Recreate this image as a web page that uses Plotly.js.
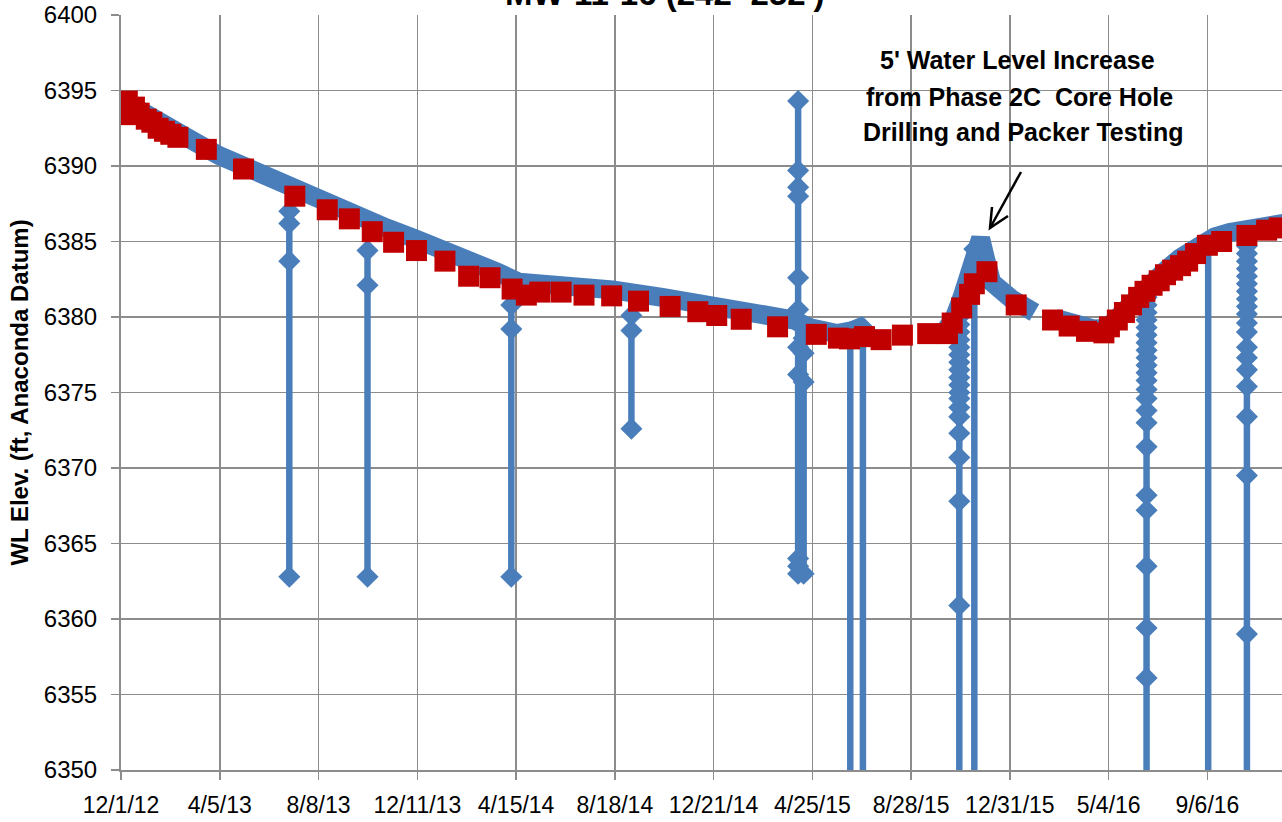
<!DOCTYPE html>
<html>
<head>
<meta charset="utf-8">
<script src="https://cdn.plot.ly/plotly-3.0.1.min.js"></script>
<style>html,body{margin:0;padding:0;background:#fff;}#chart{width:1282px;height:822px;}</style>
</head>
<body>
<div id="chart"></div>
<script>
// ---- Chart title & labels ----
const chartTitle = "MW-11-16 (242'-252')";
const yAxisTitle = "WL Elev. (ft, Anaconda Datum)";
const noteLines = ["5' Water Level Increase", "from Phase 2C\u00a0 Core Hole", "Drilling and Packer Testing"];

// ---- X tick dates / labels ----
const tickDates = ['2012-12-01','2013-04-05','2013-08-08','2013-12-11','2014-04-15','2014-08-18','2014-12-21','2015-04-25','2015-08-28','2015-12-31','2016-05-04','2016-09-06'];
const tickLabels = ['12/1/12','4/5/13','8/8/13','12/11/13','4/15/14','8/18/14','12/21/14','4/25/15','8/28/15','12/31/15','5/4/16','9/6/16'];

// ---- Continuous transducer record (blue), null = data gap ----
const bandDates = ['2012-12-01','2013-01-06','2013-02-22','2013-04-04','2013-05-12','2013-06-10','2013-07-15','2013-08-09','2013-09-20','2013-11-02','2013-12-07','2014-01-08','2014-02-06','2014-03-21','2014-04-19','2014-06-13','2014-08-15','2014-10-17','2014-12-19','2015-02-21','2015-04-02','2015-04-21','2015-05-26','2015-06-15','2015-06-24','2015-07-04',
  '2015-08-01',
  '2015-10-09','2015-10-22','2015-11-01','2015-11-10','2015-11-17','2015-11-24','2015-11-30','2015-12-08','2016-01-02','2016-01-31',
  '2016-02-10',
  '2016-02-27','2016-03-22','2016-04-16','2016-05-03','2016-05-18','2016-05-31','2016-06-19','2016-07-11','2016-08-02','2016-08-24','2016-09-15','2016-10-04','2016-10-30','2016-12-12'];
const bandValues = [6394.4,6393.2,6391.9,6390.7,6389.8,6389.1,6388.4,6387.75,6386.8,6385.9,6385.2,6384.6,6383.8,6383.0,6382.3,6382.1,6381.8,6381.3,6380.8,6380.3,6379.8,6379.3,6378.9,6379.1,6379.3,6378.8,
  null,
  6379.0,6380.0,6381.4,6383.3,6384.7,6385.2,6383.9,6382.3,6381.2,6380.3,
  null,
  6379.9,6379.5,6379.2,6379.3,6380.1,6381.0,6381.9,6382.9,6383.9,6384.7,6385.3,6385.6,6385.9,6386.2];

// ---- Transducer excursions (blue spikes) ----
const spikeDates = ['2013-07-02','2013-10-09','2014-04-09','2014-09-08','2015-04-07','2015-04-14','2015-06-12','2015-06-28','2015-10-28','2015-11-16','2016-06-21','2016-09-07','2016-10-26'];
const spikeValues = [
  [6387.0,6386.2,6383.7,6362.8],
  [6384.4,6382.1,6362.8],
  [6380.8,6379.2,6362.8],
  [6380.1,6379.1,6372.6],
  [6394.3,6389.7,6388.6,6388.0,6382.6,6380.5,6378.0,6376.2,6364.0,6363.5,6363.0],
  [6379.3,6378.6,6377.6,6375.7,6363.0],
  [6379.0,6340],
  [6379.3,6340],
  [6380.5,6380.0,6379.5,6379.0,6378.5,6378.0,6377.5,6377.0,6376.5,6376.0,6375.5,6375.0,6374.6,6374.0,6373.4,6372.3,6370.7,6367.8,6360.9,6340],
  [6384.5,6340],
  [6381.8,6381.3,6380.8,6380.3,6379.8,6379.3,6378.8,6378.3,6377.8,6377.3,6376.8,6376.3,6375.8,6375.2,6374.6,6373.8,6373.0,6371.4,6368.2,6367.2,6363.5,6359.4,6356.1,6340],
  [6384.9,6340],
  [6385.7,6385.2,6384.7,6384.2,6383.7,6383.2,6382.7,6382.2,6381.7,6381.2,6380.7,6380.2,6379.6,6379.0,6378.0,6377.3,6376.5,6375.4,6373.4,6369.5,6359.0,6340]
];

// ---- Manual measurements (red) ----
const manualDates = ['2012-12-09','2012-12-11','2012-12-18','2012-12-24','2013-01-02','2013-01-09','2013-01-17','2013-01-25','2013-02-02','2013-02-11','2013-03-19','2013-05-05','2013-07-09','2013-08-19','2013-09-16','2013-10-15','2013-11-11','2013-12-10','2014-01-15','2014-02-14','2014-03-13','2014-04-10','2014-04-28','2014-05-15','2014-06-11','2014-07-10','2014-08-14','2014-09-17','2014-10-27','2014-12-01','2014-12-25','2015-01-25','2015-03-12','2015-04-30','2015-05-28','2015-06-11','2015-06-30','2015-07-21','2015-08-17','2015-09-18','2015-10-13','2015-10-19','2015-10-31','2015-11-10','2015-11-16','2015-12-02','2016-01-08','2016-02-23','2016-03-15','2016-04-06','2016-04-28','2016-05-05','2016-05-15','2016-05-24','2016-06-02','2016-06-11','2016-06-19','2016-06-28','2016-07-07','2016-07-15','2016-07-24','2016-08-03','2016-08-12','2016-08-22','2016-09-06','2016-09-24','2016-10-26','2016-11-20','2016-12-06'];
const manualValues = [6394.3,6393.4,6393.9,6393.5,6393.1,6392.9,6392.5,6392.3,6392.1,6391.9,6391.1,6389.8,6388.0,6387.1,6386.5,6385.65,6384.95,6384.4,6383.7,6382.7,6382.6,6381.85,6381.45,6381.65,6381.65,6381.45,6381.4,6381.05,6380.7,6380.35,6380.1,6379.85,6379.35,6378.85,6378.6,6378.55,6378.7,6378.5,6378.8,6378.9,6378.9,6379.6,6380.6,6381.5,6382.2,6383.0,6380.8,6379.8,6379.4,6379.05,6378.95,6379.35,6379.8,6380.3,6380.8,6381.3,6381.7,6382.1,6382.4,6382.8,6383.1,6383.4,6383.7,6384.2,6384.75,6385.0,6385.4,6385.75,6385.9];

// ---- Build traces ----
const spikeX = [], spikeY = [];
spikeDates.forEach((d, i) => {
  spikeValues[i].forEach(v => { spikeX.push(d); spikeY.push(v); });
  spikeX.push(d); spikeY.push(null);
});

const BLUE = '#4a7ebb', RED = '#c00000', GRID = '#8c8c8c';
const FONT = 'Liberation Sans, Arial, sans-serif';

const traces = [
  { type: 'scatter', mode: 'lines', x: bandDates, y: bandValues, connectgaps: false,
    line: { color: BLUE, width: 19 }, hoverinfo: 'skip' },
  { type: 'scatter', mode: 'lines+markers', x: spikeX, y: spikeY, connectgaps: false,
    line: { color: BLUE, width: 6.5 }, marker: { symbol: 'diamond', size: 17, color: BLUE } },
  { type: 'scatter', mode: 'markers', x: manualDates, y: manualValues,
    marker: { symbol: 'square', size: 21, color: RED, line: { width: 0 } } }
];

// pixel -> paper helpers for the callout (plot area: x 121..1282, y 15..770)
const px = v => (v - 121) / 1161;
const py = v => (770 - v) / 755;

const noteY = [60, 97, 132], noteX = [1017, 1019, 1023];
const annotations = [
  { xref: 'paper', yref: 'paper', x: px(665), y: py(14), xanchor: 'center', yanchor: 'bottom',
    text: '<b>' + chartTitle + '</b>', showarrow: false, font: { family: FONT, size: 33, color: '#000' } }
];
noteLines.forEach((t, i) => annotations.push({
  xref: 'paper', yref: 'paper', x: px(noteX[i]), y: py(noteY[i]),
  xanchor: 'center', yanchor: 'middle', text: '<b>' + t + '</b>', showarrow: false,
  font: { family: FONT, size: 25, color: '#000' }
}));

const shapes = [
  { type: 'line', xref: 'paper', yref: 'paper', x0: px(1021), y0: py(172), x1: px(990), y1: py(228),
    line: { color: '#000', width: 2.5 } },
  { type: 'path', xref: 'paper', yref: 'paper',
    path: 'M' + px(1008) + ',' + py(216) + ' L' + px(990) + ',' + py(228) + ' L' + px(992) + ',' + py(207),
    line: { color: '#000', width: 2.5 } }
];

const layout = {
  width: 1282, height: 822,
  margin: { l: 121, r: 0, t: 15, b: 52, pad: 0 },
  paper_bgcolor: '#fff', plot_bgcolor: '#fff',
  showlegend: false,
  font: { family: FONT, color: '#000' },
  xaxis: {
    type: 'date', range: ['2012-12-01', '2016-12-09 10:00'],
    tickmode: 'array', tickvals: tickDates, ticktext: tickLabels,
    showgrid: true, gridcolor: GRID, gridwidth: 1.5,
    showline: true, linecolor: GRID, linewidth: 2,
    ticks: 'outside', ticklen: 8, tickcolor: GRID, tickwidth: 1.5,
    tickfont: { family: FONT, size: 23, color: '#000' }, ticklabelstandoff: 5,
    zeroline: false, fixedrange: true
  },
  yaxis: {
    range: [6350, 6400], tick0: 6350, dtick: 5,
    showgrid: true, gridcolor: GRID, gridwidth: 1.5,
    showline: true, linecolor: GRID, linewidth: 2,
    ticks: 'outside', ticklen: 8, tickcolor: GRID, tickwidth: 1.5,
    tickfont: { family: FONT, size: 24, color: '#000' }, ticklabelstandoff: 9,
    title: { text: '<b>' + yAxisTitle + '</b>', font: { family: FONT, size: 24, color: '#000' }, standoff: 8 },
    zeroline: false, fixedrange: true
  },
  annotations: annotations,
  shapes: shapes
};

Plotly.newPlot('chart', traces, layout, { displayModeBar: false, staticPlot: true });
</script>
</body>
</html>
